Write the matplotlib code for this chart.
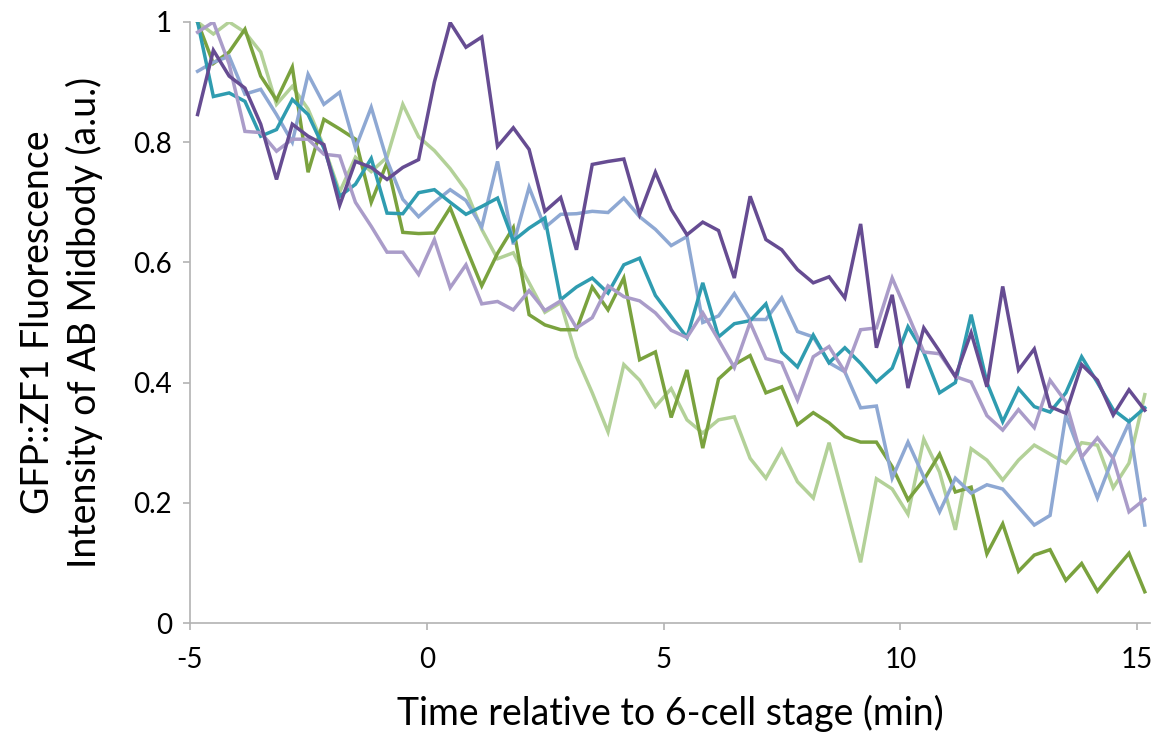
import matplotlib
matplotlib.use("Agg")
import matplotlib.pyplot as plt
import numpy as np

# time points (min), 20 s interval
t_start = -4.84
n_points = 61
time = [t_start + k / 3.0 for k in range(n_points)]

dark_purple = [0.846, 0.953, 0.91, 0.89, 0.83, 0.738, 0.83, 0.81, 0.796, 0.695,
               0.768, 0.758, 0.738, 0.758, 0.771, 0.90, 0.999, 0.958, 0.975, 0.793,
               0.824, 0.788, 0.685, 0.708, 0.621, 0.763, 0.768, 0.772, 0.68, 0.75,
               0.688, 0.646, 0.667, 0.653, 0.574, 0.71, 0.638, 0.621, 0.588, 0.566,
               0.576, 0.541, 0.664, 0.458, 0.546, 0.391, 0.491, 0.452, 0.41, 0.483,
               0.393, 0.56, 0.421, 0.456, 0.36, 0.349, 0.43, 0.404, 0.346, 0.388, 0.354]

teal = [1.0, 0.876, 0.882, 0.868, 0.81, 0.821, 0.871, 0.846, 0.79, 0.71,
        0.73, 0.773, 0.682, 0.681, 0.716, 0.721, 0.70, 0.68, 0.693, 0.707,
        0.636, 0.657, 0.674, 0.538, 0.559, 0.574, 0.549, 0.596, 0.607, 0.545,
        0.51, 0.475, 0.566, 0.476, 0.498, 0.503, 0.531, 0.451, 0.426, 0.479,
        0.433, 0.458, 0.432, 0.401, 0.424, 0.493, 0.45, 0.383, 0.40, 0.513,
        0.40, 0.335, 0.39, 0.36, 0.351, 0.383, 0.443, 0.40, 0.355, 0.335, 0.358]

light_blue = [0.918, 0.933, 0.943, 0.88, 0.888, 0.846, 0.80, 0.913, 0.863, 0.883,
              0.79, 0.858, 0.77, 0.705, 0.676, 0.70, 0.721, 0.703, 0.659, 0.768,
              0.63, 0.725, 0.658, 0.68, 0.681, 0.685, 0.683, 0.707, 0.676, 0.655,
              0.628, 0.643, 0.50, 0.511, 0.548, 0.505, 0.505, 0.541, 0.485, 0.476,
              0.433, 0.418, 0.358, 0.361, 0.241, 0.301, 0.243, 0.185, 0.241, 0.216,
              0.23, 0.223, 0.193, 0.163, 0.179, 0.346, 0.276, 0.208, 0.276, 0.333, 0.163]

lavender = [0.983, 1.0, 0.93, 0.818, 0.816, 0.785, 0.805, 0.805, 0.78, 0.777,
            0.70, 0.66, 0.617, 0.617, 0.58, 0.638, 0.558, 0.596, 0.531, 0.535,
            0.521, 0.553, 0.52, 0.536, 0.491, 0.508, 0.561, 0.543, 0.536, 0.516,
            0.487, 0.475, 0.516, 0.471, 0.425, 0.50, 0.44, 0.433, 0.371, 0.443,
            0.46, 0.418, 0.488, 0.491, 0.574, 0.513, 0.451, 0.448, 0.41, 0.401,
            0.345, 0.321, 0.355, 0.325, 0.404, 0.368, 0.276, 0.308, 0.274, 0.185, 0.206]

green = [1.0, 0.931, 0.95, 0.988, 0.91, 0.87, 0.925, 0.75, 0.838, 0.822,
         0.805, 0.70, 0.766, 0.65, 0.648, 0.649, 0.691, 0.625, 0.561, 0.615,
         0.658, 0.513, 0.496, 0.488, 0.488, 0.559, 0.521, 0.574, 0.438, 0.451,
         0.342, 0.421, 0.291, 0.406, 0.43, 0.445, 0.383, 0.393, 0.33, 0.35,
         0.333, 0.31, 0.301, 0.301, 0.26, 0.205, 0.238, 0.281, 0.218, 0.226,
         0.115, 0.165, 0.086, 0.113, 0.122, 0.071, 0.099, 0.053, 0.085, 0.116, 0.052]

light_green = [1.0, 0.98, 1.0, 0.983, 0.95, 0.863, 0.893, 0.855, 0.793, 0.717,
               0.775, 0.751, 0.775, 0.863, 0.809, 0.786, 0.756, 0.72, 0.655, 0.606,
               0.616, 0.566, 0.517, 0.533, 0.443, 0.383, 0.318, 0.43, 0.404, 0.36,
               0.39, 0.338, 0.316, 0.338, 0.343, 0.274, 0.241, 0.288, 0.235, 0.208,
               0.3, 0.201, 0.101, 0.24, 0.223, 0.181, 0.306, 0.251, 0.155, 0.29,
               0.271, 0.238, 0.271, 0.296, 0.281, 0.266, 0.3, 0.296, 0.225, 0.266, 0.38]

series = [
    (light_green, "#b3d198"),
    (green, "#7aa23e"),
    (light_blue, "#8ea8d3"),
    (teal, "#2f9cb0"),
    (lavender, "#aa9cc9"),
    (dark_purple, "#664c92"),
]

x_ticks = [-5, 0, 5, 10, 15]
y_ticks = [0, 0.2, 0.4, 0.6, 0.8, 1.0]
y_tick_labels = ["0", "0.2", "0.4", "0.6", "0.8", "1"]

plt.rcParams['font.family'] = ['Lato', 'DejaVu Sans']

fig = plt.figure(figsize=(11.67, 7.43), dpi=100)
ax = fig.add_axes([190 / 1167, 1 - 623 / 743, (1150 - 190) / 1167, (623 - 22) / 743])

for vals, col in series:
    ax.plot(time, vals, color=col, lw=2.5, solid_joinstyle='miter')

ax.set_xlim(-5, 15.27)
ax.set_ylim(0, 1)
ax.set_xticks(x_ticks)
ax.set_xticklabels([str(v) for v in x_ticks])
ax.set_yticks(y_ticks)
ax.set_yticklabels(y_tick_labels)

for s in ["top", "right"]:
    ax.spines[s].set_visible(False)
for s in ["left", "bottom"]:
    ax.spines[s].set_color("#b3b3b3")
    ax.spines[s].set_linewidth(1.2)

ax.tick_params(axis='both', direction='out', length=5, width=1.2, color="#b3b3b3",
               labelsize=20, labelcolor="#000000")
ax.tick_params(axis='x', pad=12)
ax.tick_params(axis='y', pad=8)

ax.set_xlabel("Time relative to 6-cell stage (min)", fontsize=27, labelpad=16)
ax.set_ylabel("GFP::ZF1 Fluorescence\nIntensity of AB Midbody (a.u.)", fontsize=27,
              labelpad=22, linespacing=1.3)

fig.savefig("out.png", dpi=100, facecolor="white")
